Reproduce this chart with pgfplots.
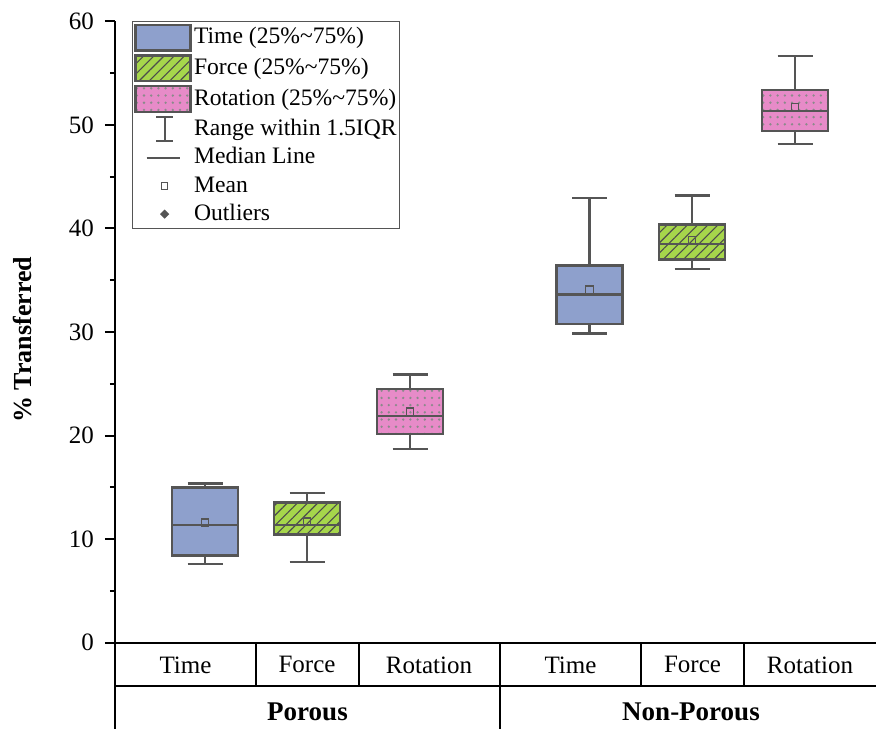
\documentclass[border=0pt]{standalone}
\usepackage{fontspec}
\setmainfont{Liberation Serif}
\usepackage{pgfplots}
\pgfplotsset{compat=1.18}
\usetikzlibrary{patterns.meta}

\definecolor{cTime}{HTML}{8EA0CC}
\definecolor{cForce}{HTML}{A6D64B}
\definecolor{cRot}{HTML}{E78BC8}
\definecolor{cEdge}{HTML}{555555}
\definecolor{cDot}{HTML}{8A8A8A}

\tikzset{
 timebox/.style={fill=cTime, draw=cEdge, line width=1.2pt},
 forcebox/.style={preaction={fill=cForce}, preaction={pattern={Lines[angle=45,distance=3.6pt,line width=0.55pt]}, pattern color=cEdge!90!black}, draw=cEdge, line width=1.2pt},
 rotbox/.style={preaction={fill=cRot}, preaction={pattern={Dots[distance=3.6pt,radius=0.65pt]}, pattern color=cDot}, draw=cEdge, line width=1.2pt},
 wline/.style={draw=cEdge, line width=1.1pt, mark=none},
 legbb/.style={draw=none, fill=none},
}

\begin{document}
\begin{tikzpicture}
\begin{axis}[
  scale only axis,
  width=380.5pt, height=310.75pt,
  xmin=115, xmax=876, ymin=0, ymax=60,
  clip=false,
  unbounded coords=jump,
  axis x line*=bottom, axis y line*=left,
  axis line style={line width=1pt, black, -},
  xtick=\empty,
  ytick={0,10,20,30,40,50,60},
  minor y tick num=1,
  tick align=outside,
  major tick length=5pt, minor tick length=2.5pt,
  tick style={line width=1pt, black},
  /pgf/number format/assume math mode=true,
  yticklabel style={font=\fontsize{12.5}{15}\selectfont, xshift=-2pt},
  ylabel={\textbf{\% Transferred}},
  every axis y label/.style={at={(rel axis cs:-0.1209,0.4875)}, rotate=90, anchor=center, font=\fontsize{13}{15}\selectfont},
  legend cell align=left,
  legend style={at={(rel axis cs:0.0223,1)}, anchor=north west, draw=cEdge, line width=0.5pt,
    font=\fontsize{11.8}{14}\selectfont, row sep=1.3pt, inner sep=1pt,
    nodes={draw=none, fill=none, inner sep=0.6pt, text height=8.6pt, text depth=2.5pt},
    /tikz/every odd column/.append style={column sep=0.5pt}},
]
% legend entries
\addlegendimage{legend image code/.code={\path[legbb] (0pt,-6.4pt) rectangle (27.5pt,6.4pt); \path[timebox] (0pt,-6.4pt) rectangle (27.5pt,6.4pt);}}
\addlegendentry{Time (25\%\textasciitilde 75\%)}
\addlegendimage{legend image code/.code={\path[legbb] (0pt,-6.4pt) rectangle (27.5pt,6.4pt); \path[forcebox] (0pt,-6.4pt) rectangle (27.5pt,6.4pt);}}
\addlegendentry{Force (25\%\textasciitilde 75\%)}
\addlegendimage{legend image code/.code={\path[legbb] (0pt,-6.4pt) rectangle (27.5pt,6.4pt); \path[rotbox] (0pt,-6.4pt) rectangle (27.5pt,6.4pt);}}
\addlegendentry{Rotation (25\%\textasciitilde 75\%)}
\addlegendimage{legend image code/.code={\path[legbb] (0pt,-6.4pt) rectangle (27.5pt,6.4pt); \draw[cEdge, line width=1pt] (10.25pt,-6.2pt) -- (18.75pt,-6.2pt) (14.5pt,-6.2pt) -- (14.5pt,6.2pt) (10.25pt,6.2pt) -- (18.75pt,6.2pt);}}
\addlegendentry{Range within 1.5IQR}
\addlegendimage{legend image code/.code={\path[legbb] (0pt,-6.4pt) rectangle (27.5pt,6.4pt); \draw[cEdge, line width=1pt] (5.5pt,0pt) -- (22pt,0pt);}}
\addlegendentry{Median Line}
\addlegendimage{legend image code/.code={\path[legbb] (0pt,-6.4pt) rectangle (27.5pt,6.4pt); \draw[cEdge, line width=0.5pt, fill=none] (12.9pt,-1.6pt) rectangle (16.1pt,1.6pt);}}
\addlegendentry{Mean}
\addlegendimage{legend image code/.code={\path[legbb] (0pt,-6.4pt) rectangle (27.5pt,6.4pt); \path[fill=cEdge, draw=none] (14.5pt,2.3pt) -- (16.8pt,0pt) -- (14.5pt,-2.3pt) -- (12.2pt,0pt) -- cycle;}}
\addlegendentry{Outliers}

% ---- Porous / Time: lw 7.57, q1 8.44, med 11.36, q3 14.97, uw 15.38
\addplot[timebox, forget plot] coordinates {(172,8.44) (238,8.44) (238,14.97) (172,14.97)} -- cycle;
\addplot[wline, forget plot] coordinates {(205,14.97) (205,15.38) (nan,nan) (187.5,15.38) (222.5,15.38) (nan,nan)
  (205,8.44) (205,7.57) (nan,nan) (187.5,7.57) (222.5,7.57) (nan,nan) (172,11.36) (238,11.36)};
% ---- Porous / Force: lw 7.79, q1 10.46, med 11.33, q3 13.52, uw 14.48
\addplot[forcebox, forget plot] coordinates {(274,10.46) (340,10.46) (340,13.52) (274,13.52)} -- cycle;
\addplot[wline, forget plot] coordinates {(307,13.52) (307,14.48) (nan,nan) (289.5,14.48) (324.5,14.48) (nan,nan)
  (307,10.46) (307,7.79) (nan,nan) (289.5,7.79) (324.5,7.79) (nan,nan) (274,11.33) (340,11.33)};
% ---- Porous / Rotation: lw 18.73, q1 20.14, med 21.87, q3 24.51, uw 25.89
\addplot[rotbox, forget plot] coordinates {(377,20.14) (443,20.14) (443,24.51) (377,24.51)} -- cycle;
\addplot[wline, forget plot] coordinates {(410,24.51) (410,25.89) (nan,nan) (392.5,25.89) (427.5,25.89) (nan,nan)
  (410,20.14) (410,18.73) (nan,nan) (392.5,18.73) (427.5,18.73) (nan,nan) (377,21.87) (443,21.87)};
% ---- Non-Porous / Time: lw 29.85, q1 30.78, med 33.61, q3 36.40, uw 42.96
\addplot[timebox, forget plot] coordinates {(556.5,30.78) (622.5,30.78) (622.5,36.40) (556.5,36.40)} -- cycle;
\addplot[wline, forget plot] coordinates {(589.5,36.40) (589.5,42.96) (nan,nan) (572,42.96) (607,42.96) (nan,nan)
  (589.5,30.78) (589.5,29.85) (nan,nan) (572,29.85) (607,29.85) (nan,nan) (556.5,33.61) (622.5,33.61)};
% ---- Non-Porous / Force: lw 36.09, q1 36.98, med 38.50, q3 40.36, uw 43.18
\addplot[forcebox, forget plot] coordinates {(659,36.98) (725,36.98) (725,40.36) (659,40.36)} -- cycle;
\addplot[wline, forget plot] coordinates {(692,40.36) (692,43.18) (nan,nan) (674.5,43.18) (709.5,43.18) (nan,nan)
  (692,36.98) (692,36.09) (nan,nan) (674.5,36.09) (709.5,36.09) (nan,nan) (659,38.50) (725,38.50)};
% ---- Non-Porous / Rotation: lw 48.14, q1 49.42, med 51.35, q3 53.38, uw 56.68
\addplot[rotbox, forget plot] coordinates {(762,49.42) (828,49.42) (828,53.38) (762,53.38)} -- cycle;
\addplot[wline, forget plot] coordinates {(795,53.38) (795,56.68) (nan,nan) (777.5,56.68) (812.5,56.68) (nan,nan)
  (795,49.42) (795,48.14) (nan,nan) (777.5,48.14) (812.5,48.14) (nan,nan) (762,51.35) (828,51.35)};

% means
\addplot[forget plot, only marks, mark=square, mark size=1.85pt, mark options={draw=cEdge, line width=0.6pt}]
  coordinates {(205,11.59) (307,11.69) (410,22.30) (589.5,34.09) (692,38.84) (795,51.71)};

% category table below the axis
\draw[line width=1pt] (axis cs:115,-4.195) -- (axis cs:876,-4.195);
\draw[line width=1pt] (axis cs:115,0) -- (axis cs:115,-8.34);
\draw[line width=1pt] (axis cs:500,0) -- (axis cs:500,-8.34);
\draw[line width=1pt] (axis cs:256,0) -- (axis cs:256,-4.195);
\draw[line width=1pt] (axis cs:358.5,0) -- (axis cs:358.5,-4.195);
\draw[line width=1pt] (axis cs:641,0) -- (axis cs:641,-4.195);
\draw[line width=1pt] (axis cs:744,0) -- (axis cs:744,-4.195);
\begin{scope}[every node/.style={font=\fontsize{12.5}{15}\selectfont, anchor=center}]
\node at (axis cs:185.5,-2.14) {Time};
\node at (axis cs:307,-2.14) {Force};
\node at (axis cs:429,-2.14) {Rotation};
\node at (axis cs:570.5,-2.14) {Time};
\node at (axis cs:692.5,-2.14) {Force};
\node at (axis cs:810,-2.14) {Rotation};
\end{scope}
\node[font=\fontsize{13.5}{16}\selectfont\bfseries] at (axis cs:307.5,-6.70) {Porous};
\node[font=\fontsize{13.5}{16}\selectfont\bfseries] at (axis cs:691,-6.70) {Non-Porous};

\coordinate (BBL) at (axis cs:0,-8.34);
\coordinate (BTR) at (axis cs:876,62.05);
\end{axis}
\pgfresetboundingbox
\path[use as bounding box] (BBL) rectangle (BTR);
\end{tikzpicture}
\end{document}
